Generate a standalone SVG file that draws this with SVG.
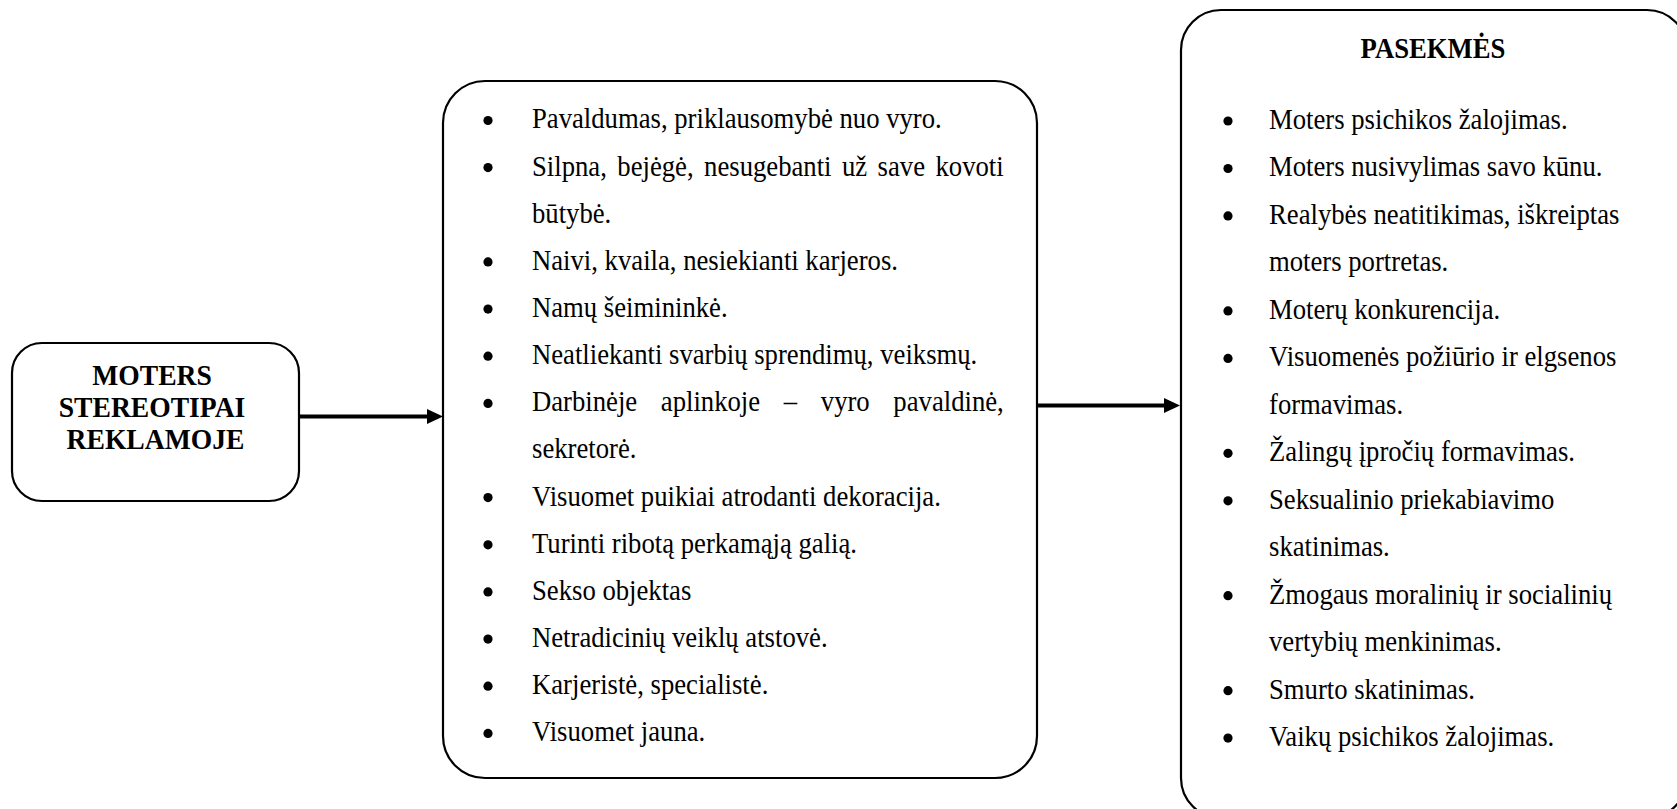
<svg xmlns="http://www.w3.org/2000/svg" width="1677" height="809" viewBox="0 0 1677 809">
<style>
.box{fill:#fff;stroke:#000;stroke-width:2.2}
.t{font-family:"Liberation Serif","Times New Roman",serif;font-size:26.7px;fill:#000}
.b{font-weight:bold}
.lb{font-size:27.6px}
.dot{fill:#000}
.conn{stroke:#000;stroke-width:3.8;fill:none}
</style>
<defs>
<marker id="ah" viewBox="0 0 16 15" refX="5" refY="7.5" markerWidth="16" markerHeight="15" markerUnits="userSpaceOnUse" orient="auto">
<path d="M0,0 L16,7.5 L0,15 z" fill="#000"/>
</marker>
</defs>
<rect width="1677" height="809" fill="#fff"/>

<g id="connectors">
<line class="conn" x1="299" y1="416.5" x2="432" y2="416.5" marker-end="url(#ah)"/>
<line class="conn" x1="1037" y1="405.5" x2="1169" y2="405.5" marker-end="url(#ah)"/>
</g>

<g id="node-stereotipai">
<rect class="box" x="12" y="343" width="287" height="158" rx="30" ry="30"/>
<text class="t b lb" text-anchor="middle" transform="scale(1,1.08)">
<tspan x="155.5" y="356.9">MOTERS</tspan>
<tspan x="155.5" y="386.1">STEREOTIPAI</tspan>
<tspan x="155.5" y="415.3">REKLAMOJE</tspan>
</text>
</g>

<g id="node-stereotipai-list">
<rect class="box" x="443" y="81" width="594" height="697" rx="42" ry="42"/>
<g class="dot">
<circle cx="488" cy="120.5" r="4.6"/>
<circle cx="488" cy="167.6" r="4.6"/>
<circle cx="488" cy="261.9" r="4.6"/>
<circle cx="488" cy="309.1" r="4.6"/>
<circle cx="488" cy="356.2" r="4.6"/>
<circle cx="488" cy="403.4" r="4.6"/>
<circle cx="488" cy="497.6" r="4.6"/>
<circle cx="488" cy="544.8" r="4.6"/>
<circle cx="488" cy="591.9" r="4.6"/>
<circle cx="488" cy="639.1" r="4.6"/>
<circle cx="488" cy="686.2" r="4.6"/>
<circle cx="488" cy="733.4" r="4.6"/>
</g>
<text class="t" transform="scale(1,1.08)">
<tspan x="532" y="118.98">Pavaldumas, priklausomybė nuo vyro.</tspan>
<tspan x="532" y="162.63" word-spacing="3.8">Silpna, bejėgė, nesugebanti už save kovoti</tspan>
<tspan x="532" y="206.28">būtybė.</tspan>
<tspan x="532" y="249.93">Naivi, kvaila, nesiekianti karjeros.</tspan>
<tspan x="532" y="293.57">Namų šeimininkė.</tspan>
<tspan x="532" y="337.22">Neatliekanti svarbių sprendimų, veiksmų.</tspan>
<tspan x="532" y="380.87" word-spacing="17">Darbinėje aplinkoje – vyro pavaldinė,</tspan>
<tspan x="532" y="424.52">sekretorė.</tspan>
<tspan x="532" y="468.17">Visuomet puikiai atrodanti dekoracija.</tspan>
<tspan x="532" y="511.81">Turinti ribotą perkamąją galią.</tspan>
<tspan x="532" y="555.46">Sekso objektas</tspan>
<tspan x="532" y="599.11">Netradicinių veiklų atstovė.</tspan>
<tspan x="532" y="642.76">Karjeristė, specialistė.</tspan>
<tspan x="532" y="686.41">Visuomet jauna.</tspan>
</text>
</g>

<g id="node-pasekmes">
<rect class="box" x="1181" y="10" width="506" height="808" rx="40" ry="40"/>
<text class="t b" x="1433" y="53.7" text-anchor="middle" transform="scale(1,1.08)">PASEKMĖS</text>
<g class="dot">
<circle cx="1228" cy="121" r="4.6"/>
<circle cx="1228" cy="168.5" r="4.6"/>
<circle cx="1228" cy="215.9" r="4.6"/>
<circle cx="1228" cy="310.9" r="4.6"/>
<circle cx="1228" cy="358.4" r="4.6"/>
<circle cx="1228" cy="453.3" r="4.6"/>
<circle cx="1228" cy="500.8" r="4.6"/>
<circle cx="1228" cy="595.7" r="4.6"/>
<circle cx="1228" cy="690.7" r="4.6"/>
<circle cx="1228" cy="738.1" r="4.6"/>
</g>
<text class="t" transform="scale(1,1.08)">
<tspan x="1269" y="119.44">Moters psichikos žalojimas.</tspan>
<tspan x="1269" y="163.4">Moters nusivylimas savo kūnu.</tspan>
<tspan x="1269" y="207.35">Realybės neatitikimas, iškreiptas</tspan>
<tspan x="1269" y="251.31">moters portretas.</tspan>
<tspan x="1269" y="295.26">Moterų konkurencija.</tspan>
<tspan x="1269" y="339.21">Visuomenės požiūrio ir elgsenos</tspan>
<tspan x="1269" y="383.17">formavimas.</tspan>
<tspan x="1269" y="427.12">Žalingų įpročių formavimas.</tspan>
<tspan x="1269" y="471.07">Seksualinio priekabiavimo</tspan>
<tspan x="1269" y="515.03">skatinimas.</tspan>
<tspan x="1269" y="558.98">Žmogaus moralinių ir socialinių</tspan>
<tspan x="1269" y="602.94">vertybių menkinimas.</tspan>
<tspan x="1269" y="646.89">Smurto skatinimas.</tspan>
<tspan x="1269" y="690.84">Vaikų psichikos žalojimas.</tspan>
</text>
</g>
</svg>
